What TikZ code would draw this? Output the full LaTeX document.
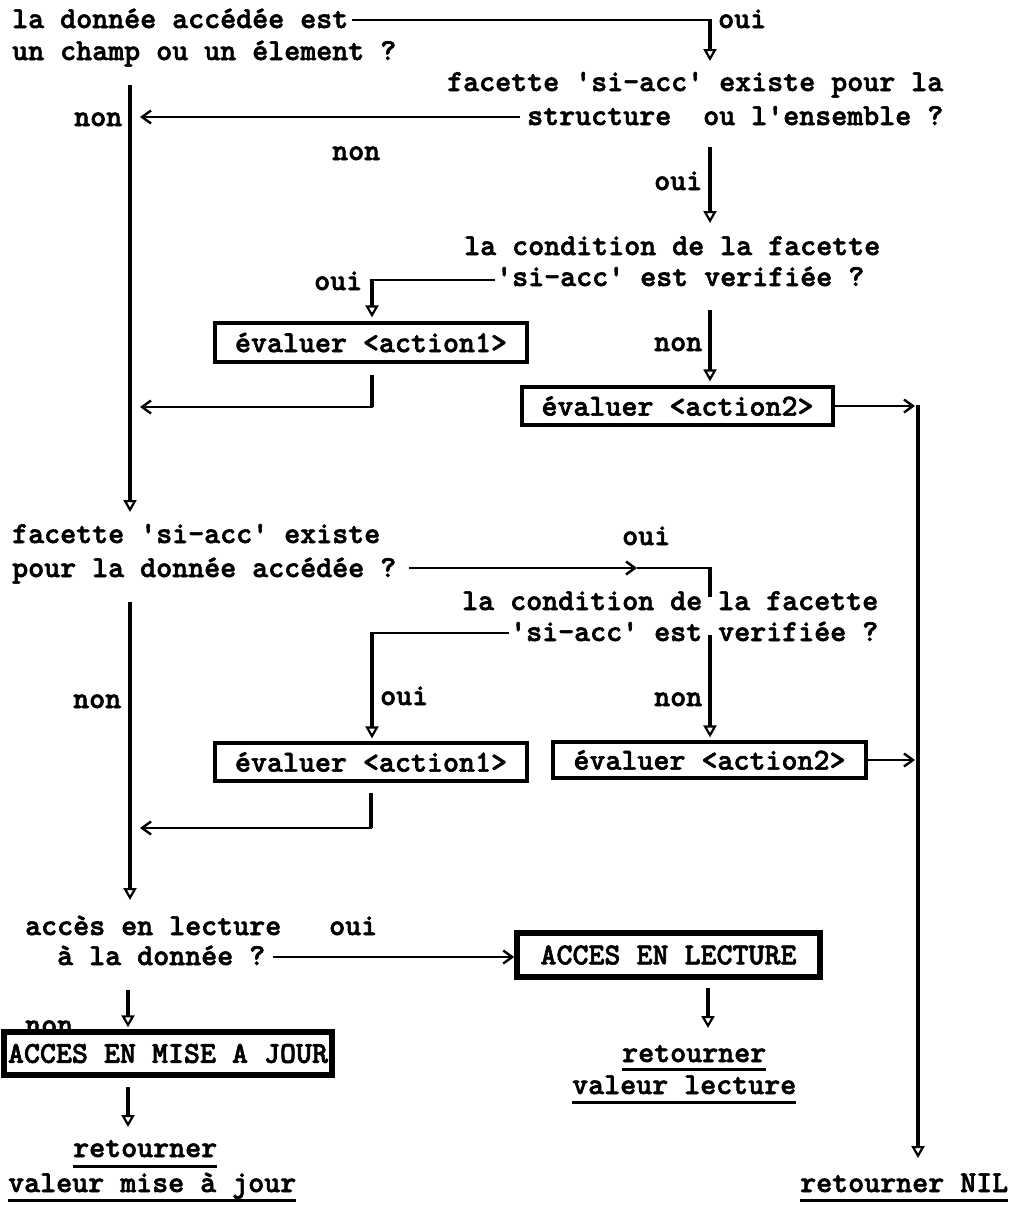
\documentclass[tikz,border=0pt]{standalone}
\usepackage{fontspec}
\newfontfamily\twfam{lmmonolt10-bold.otf}[FakeBold=2]
\usetikzlibrary{arrows.meta,calc}
\newcommand\twfont{\twfam\fontsize{30.48}{36}\selectfont}
\newcommand\qt{\textquotesingle}
\begin{document}
\begin{tikzpicture}[x=1pt,y=-1pt,
  txt/.style={inner sep=0pt, anchor=base west, font=\twfont},
  box/.style={draw, line width=3.2pt, inner sep=0pt, font=\twfont, minimum height=38pt},
  bbox/.style={box, line width=5.5pt},
  vl/.style={line width=3.6pt},
  va/.style={vl, -{Triangle[open, length=12pt, width=13pt, line width=2.2pt]}},
  hl/.style={line width=2.6pt},
  ha/.style={hl, -{Straight Barb[length=9pt, width=13pt, line width=2.4pt]}},
  ul/.style={line width=3pt}]
\useasboundingbox (0,0) rectangle (1014,1205);
\fill[white] (0,0) rectangle (1014,1205);

% question texts
\node[txt] (q1a) at (12,28) {la donnée accédée est};
\node[txt] (q1b) at (12,60) {un champ ou un élement ?};
\node[txt] (q2a) at (447,91) {facette \qt si-acc\qt{} existe pour la};
\node[txt] (q2b) at (527,125) {structure\ \ ou l\qt ensemble ?};
\node[txt] (q3a) at (464,255) {la condition de la facette};
\node[txt] (q3b) at (496,286) {\qt si-acc\qt{} est verifiée ?};
\node[txt] (q4a) at (12,543) {facette \qt si-acc\qt{} existe};
\node[txt] (q4b) at (12,577) {pour la donnée accédée ?};
\node[txt] (q5a) at (462,610) {la condition de la facette};
\node[txt] (q5b) at (510,641) {\qt si-acc\qt{} est verifiée ?};
\node[txt] (q6a) at (25,935) {accès en lecture};
\node[txt] (q6b) at (57,965) {à la donnée ?};

% labels
\node[txt] (o1) at (718,28) {oui};
\node[txt] (n1) at (74,126) {non};
\node[txt] (n2) at (332,160) {non};
\node[txt] (o2) at (654,190) {oui};
\node[txt] (o3) at (314,290) {oui};
\node[txt] (n3) at (654,351) {non};
\node[txt] (o4) at (622,545) {oui};
\node[txt] (n4) at (73,708) {non};
\node[txt] (o5) at (380,705) {oui};
\node[txt] (n5) at (654,706) {non};
\node[txt] (o6) at (329,935) {oui};
\node[txt] (n6) at (25,1034) {non};

% boxes
\node[box, minimum width=312pt, minimum height=39pt] (b1) at (371,342.5) {évaluer <action1>};
\node[box, minimum width=311pt] (b2) at (677.5,406) {évaluer <action2>};
\node[box, minimum width=312pt] (b3) at (371,762) {évaluer <action1>};
\node[box, minimum width=313pt, minimum height=36pt] (b4) at (709.5,760) {évaluer <action2>};
\node[bbox, minimum width=303pt, minimum height=44pt] (b5) at (668.5,955) {ACCES EN LECTURE};
\node[bbox, minimum width=328pt, minimum height=43pt] (b6) at (168,1053.5) {ACCES EN MISE A JOUR};

% results
\node[txt] (r1a) at (73,1157) {retourner};
\node[txt] (r1b) at (8,1192) {valeur mise à jour};
\node[txt] (r2a) at (622,1062) {retourner};
\node[txt] (r2b) at (572,1094) {valeur lecture};
\node[txt] (r3) at (800,1192) {retourner NIL};
\foreach \n/\d in {r1a/9, r1b/8, r2a/7, r2b/8, r3/8}
  \draw[ul] ([yshift=-\d pt]\n.base west) -- ([yshift=-\d pt]\n.base east);

% coordinates
\coordinate (k1) at (710,20);
\coordinate (t1) at (710,61);
\coordinate (t2) at (140,117);
\coordinate (s1) at (130,85);
\coordinate (s1b) at (130,512);
\coordinate (k3) at (710,147);
\coordinate (t3) at (710,223);
\coordinate (k4) at (372,280);
\coordinate (k5) at (710,310);
\coordinate (k6a) at (372,375);
\coordinate (k6b) at (372,407);
\coordinate (t6) at (140,407);
\coordinate (r0) at (918,405);
\coordinate (rt) at (918,1158);
\coordinate (t8) at (637,568);
\coordinate (k8) at (710,568);
\coordinate (k8b) at (710,597);
\coordinate (s2) at (130,602);
\coordinate (s2b) at (130,900);
\coordinate (k10) at (372,633);
\coordinate (k11) at (710,635);
\coordinate (k12a) at (371,793);
\coordinate (k12b) at (371,828);
\coordinate (t12) at (140,828);
\coordinate (k15) at (128,990);
\coordinate (k16) at (128,1087);
\coordinate (t16) at (128,1127);
\coordinate (k17) at (708,988);
\coordinate (t17) at (708,1028);

% connectors
\draw[hl] ([xshift=4pt,yshift=8pt]q1a.base east) -- (k1);
\draw[va] ([yshift=1pt]k1) -- (t1);
\draw[ha] ([xshift=-7pt,yshift=8pt]q2b.base west) -- (t2);
\draw[va] (s1) -- (s1b);
\draw[va] (k3) -- (t3);
\draw[hl] ([xshift=-1pt,yshift=6pt]q3b.base west) -- (k4);
\draw[va, shorten >=4pt] ([yshift=1pt]k4) -- (b1.north -| k4);
\draw[va, shorten >=4pt] (k5) -- (b2.north -| k5);
\draw[vl] (k6a) -- (k6b);
\draw[ha] ([xshift=1pt]k6b) -- (t6);
\draw[ha] (b2.east) -- ([xshift=-3pt]b2.east -| r0);
\draw[va] (r0) -- (rt);
\draw[ha] ([xshift=13pt,yshift=9pt]q4b.base east) -- (t8);
\draw[hl] (t8) -- (k8);
\draw[vl] ([yshift=1pt]k8) -- (k8b);
\draw[va] (s2) -- (s2b);
\draw[hl] ([xshift=-1pt,yshift=8pt]q5b.base west) -- (k10);
\draw[va, shorten >=3pt] ([yshift=1pt]k10) -- (b3.north -| k10);
\draw[va, shorten >=3pt] (k11) -- (b4.north -| k11);
\draw[vl] (k12a) -- (k12b);
\draw[ha] ([xshift=1pt]k12b) -- (t12);
\draw[ha] (b4.east) -- ([xshift=-3pt]b4.east -| r0);
\draw[ha] ([xshift=8pt,yshift=8pt]q6b.base east) coordinate (c14) -- (b5.west |- c14);
\draw[va, shorten >=2pt] (k15) -- (b6.north -| k15);
\draw[va] (k16) -- (t16);
\draw[va] (k17) -- (t17);
\end{tikzpicture}
\end{document}
